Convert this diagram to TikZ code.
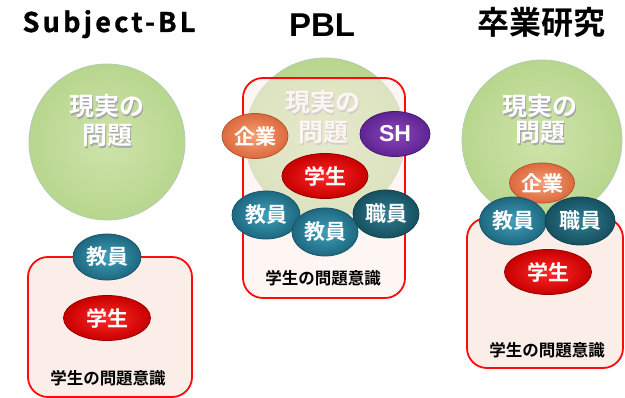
\documentclass[tikz,border=0pt]{standalone}
\usepackage{fontspec}
\setmainfont{Noto Sans CJK JP}[BoldFont={Noto Sans CJK JP Bold}]
\newfontfamily\jpb{Noto Sans CJK JP Bold}
\newfontfamily\titlef{Noto Sans CJK JP Bold}[LetterSpace=12,FakeBold=1.2]
\newfontfamily\arialb{Liberation Sans Bold}
\usetikzlibrary{shapes.geometric}
\definecolor{boxfill}{HTML}{FBEEE9}
\definecolor{boxline}{HTML}{FF0A0A}
\tikzset{
  realc/.style={circle, minimum size=#1, inner sep=0pt, draw=green!35!black!30!white, line width=0.8pt,
    inner color={rgb,255:red,206;green,228;blue,170}, outer color={rgb,255:red,184;green,214;blue,142}},
  probbox/.style={draw=boxline, line width=1.8pt, rounded corners=20pt, fill=boxfill},
  pill/.style={ellipse, inner sep=0pt, text=white, font=\jpb\fontsize{21}{21}\selectfont, line width=0.8pt},
  teal/.style={pill, draw={rgb,255:red,25;green,85;blue,105}, inner color={rgb,255:red,62;green,160;blue,186}, outer color={rgb,255:red,30;green,104;blue,128}},
  dteal/.style={pill, draw={rgb,255:red,18;green,66;blue,80}, inner color={rgb,255:red,48;green,126;blue,146}, outer color={rgb,255:red,22;green,80;blue,96}},
  redp/.style={pill, draw={rgb,255:red,150;green,0;blue,0}, inner color={rgb,255:red,255;green,40;blue,40}, outer color={rgb,255:red,200;green,0;blue,0}},
  orangep/.style={pill, draw={rgb,255:red,180;green,85;blue,50}, inner color={rgb,255:red,246;green,160;blue,118}, outer color={rgb,255:red,220;green,106;blue,62}},
  purplep/.style={pill, draw={rgb,255:red,70;green,25;blue,115}, inner color={rgb,255:red,140;green,70;blue,186}, outer color={rgb,255:red,94;green,36;blue,146}},
  ctext/.style={anchor=base, inner sep=0pt, text=white, font=\jpb\fontsize{25}{25}\selectfont},
  lbl/.style={inner sep=0pt, font=\jpb\fontsize{16.5}{16.5}\selectfont, text=black},
  ttl/.style={anchor=base, inner sep=0pt, text=black}
}
\begin{document}
\begin{tikzpicture}[x=1pt,y=-1pt]
\useasboundingbox (0,0) rectangle (625,398);
% ---------------- Subject-BL ----------------
\node[ttl, font=\titlef\fontsize{27}{27}\selectfont] (t1) at (109,32) {Subject-BL};
\node[realc=156pt] (c1) at (107,142) {};
\node[ctext, text=black!35] (c1as) at (108.2,117.2) {現実の};
\node[ctext] (c1a) at (107,116) {現実の};
\node[ctext, text=black!35] (c1bs) at (108.2,146.2) {問題};
\node[ctext] (c1b) at (107,145) {問題};
\draw[probbox] (28,257) rectangle (192,397);
\node[teal, minimum width=68pt, minimum height=46pt] (k1) at (107,257) {教員};
\node[redp, minimum width=87pt, minimum height=45pt] (s1) at (107,318) {学生};
\node[lbl] (l1) at (108,378) {学生の問題意識};
% ---------------- PBL ----------------
\node[ttl, font=\arialb\fontsize{33}{33}\selectfont] (t2) at (322,37) {PBL};
\node[realc=160pt] (c2) at (325,138) {};
\node[ctext, text=black!35] (c2as) at (324.2,113.2) {現実の};
\node[ctext] (c2a) at (323,112) {現実の};
\node[ctext, text=black!35] (c2bs) at (324.2,143.2) {問題};
\node[ctext] (c2b) at (323,142) {問題};
\fill[boxfill, fill opacity=0.55] (243,78) [rounded corners=20pt] rectangle (405,298);
\draw[boxline, line width=1.8pt, rounded corners=20pt] (243,78) rectangle (405,298);
\node[orangep, minimum width=66pt, minimum height=45pt] (e2) at (255,136) {企業};
\node[purplep, minimum width=70pt, minimum height=45pt, font=\arialb\fontsize{23}{23}\selectfont] (sh2) at (395,134) {SH};
\node[redp, minimum width=86pt, minimum height=45pt] (s2) at (325,176) {学生};
\node[teal, minimum width=68pt, minimum height=48pt] (k2a) at (266,215) {教員};
\node[dteal, minimum width=66pt, minimum height=48pt] (j2) at (386,214) {職員};
\node[teal, minimum width=66pt, minimum height=48pt] (k2b) at (325,232) {教員};
\node[lbl] (l2) at (323,278) {学生の問題意識};
% ---------------- 卒業研究 ----------------
\node[ttl, font=\jpb\fontsize{32}{32}\selectfont] (t3) at (541,35) {卒業研究};
\node[realc=160pt] (c3) at (542,140) {};
\node[ctext, text=black!35] (c3as) at (541.2,117.2) {現実の};
\node[ctext] (c3a) at (540,116) {現実の};
\node[ctext, text=black!35] (c3bs) at (541.2,143.2) {問題};
\node[ctext] (c3b) at (540,142) {問題};
\draw[probbox] (467,218) rectangle (623,368);
\node[orangep, minimum width=65pt, minimum height=40pt] (e3) at (542,183) {企業};
\node[teal, minimum width=67pt, minimum height=48pt] (k3) at (513,221) {教員};
\node[dteal, minimum width=70pt, minimum height=48pt] (j3) at (580,221) {職員};
\node[redp, minimum width=87pt, minimum height=45pt] (s3) at (548,272) {学生};
\node[lbl] (l3) at (547,350) {学生の問題意識};
\end{tikzpicture}
\end{document}
